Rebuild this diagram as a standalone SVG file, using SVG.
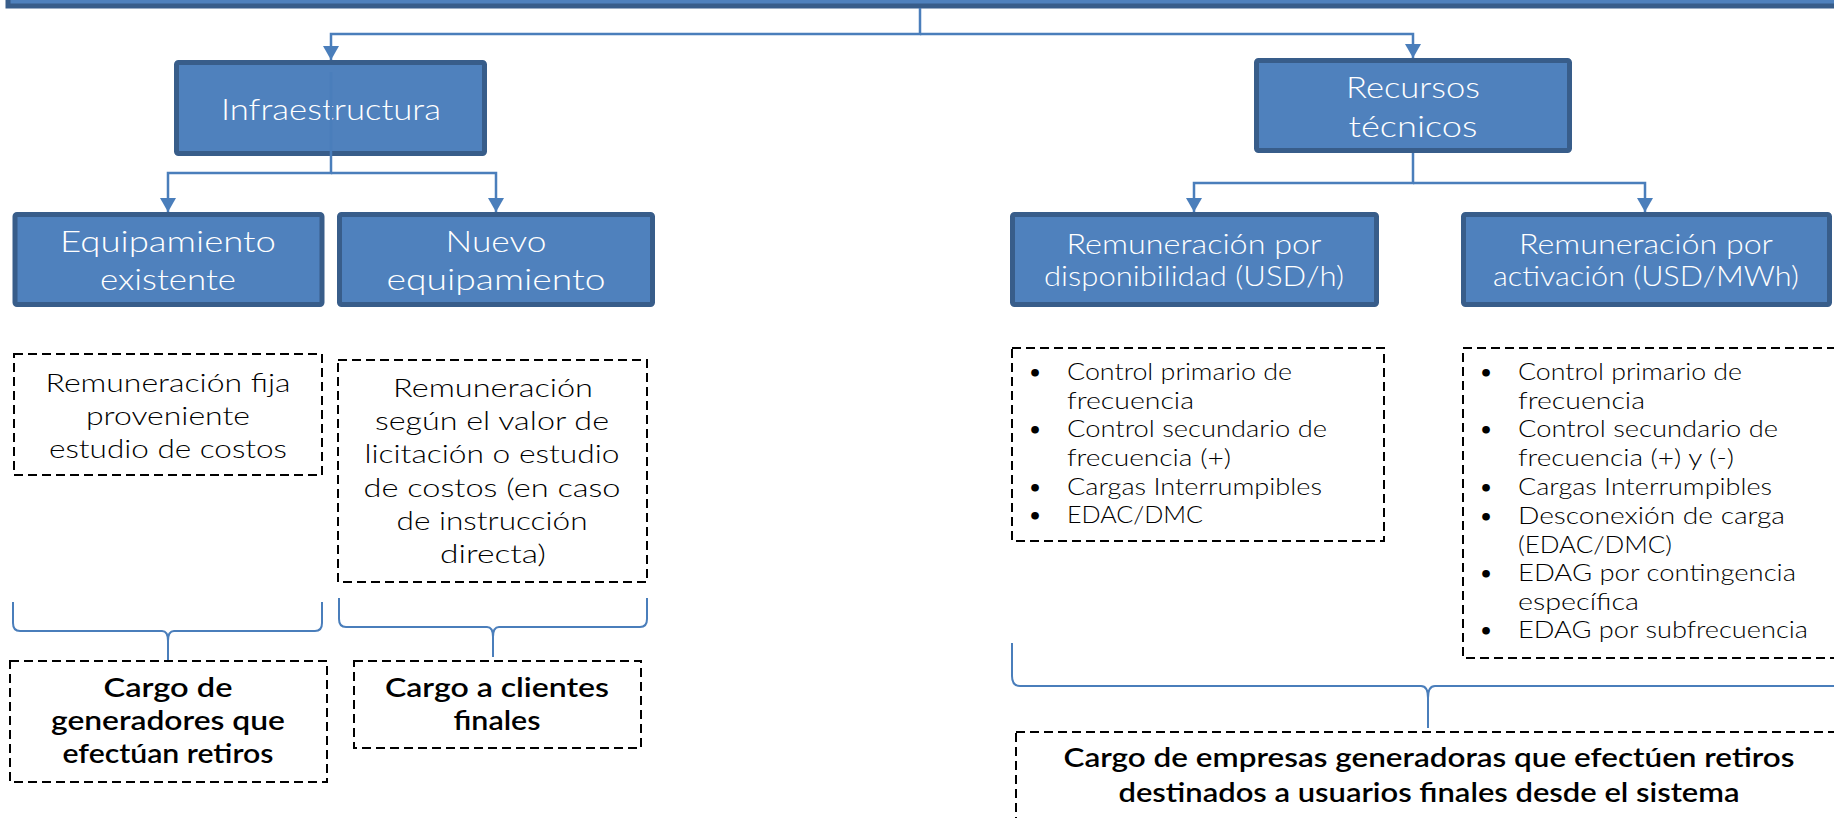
<svg xmlns="http://www.w3.org/2000/svg" width="1834" height="818" viewBox="0 0 1834 818">
<defs>
<style>
.box{fill:#4F81BD;stroke:#385D8A;stroke-width:5}
.lbl{font-family:Lato,"Liberation Sans",sans-serif;font-weight:300;fill:#FFFFFF;text-anchor:middle}
.dash{fill:none;stroke:#000;stroke-width:2;stroke-dasharray:9 5}
.txt{font-family:Lato,"Liberation Sans",sans-serif;font-weight:300;fill:#000;text-anchor:middle;font-size:25px}
.lst{font-family:Lato,"Liberation Sans",sans-serif;font-weight:300;fill:#000;font-size:23.5px}
.bul{font-family:"DejaVu Sans",sans-serif;font-weight:700;fill:#000;font-size:22px;text-anchor:middle}
.bld{font-family:Lato,"Liberation Sans",sans-serif;font-weight:600;fill:#000;text-anchor:middle;font-size:27px}
.con{fill:none;stroke:#4A7EBB;stroke-width:2.5}
.brc{fill:none;stroke:#4A7EBB;stroke-width:2}
</style>
<marker id="arr" markerWidth="16" markerHeight="16" refX="14" refY="8" orient="auto" markerUnits="userSpaceOnUse">
<path d="M0,0 L14,8 L0,16 z" fill="#4A7EBB"/>
</marker>
</defs>

<g id="top">
<rect class="box" x="8" y="-30" width="1850" height="36"/>
</g>

<g id="infraestructura">
<rect class="box" x="176.5" y="62.5" width="308" height="91" rx="2"/>
<text class="lbl" x="331" y="120" font-size="30" textLength="220" lengthAdjust="spacingAndGlyphs">Infraestructura</text>
</g>

<g id="recursos">
<rect class="box" x="1256.5" y="60.5" width="313" height="90" rx="2"/>
<text class="lbl" x="1413" y="98" font-size="29" textLength="134" lengthAdjust="spacingAndGlyphs">Recursos</text>
<text class="lbl" x="1413" y="137" font-size="29" textLength="129" lengthAdjust="spacingAndGlyphs">técnicos</text>
</g>

<g id="equip-existente">
<rect class="box" x="15" y="214.5" width="307" height="90" rx="2"/>
<text class="lbl" x="168" y="252" font-size="30" textLength="216" lengthAdjust="spacingAndGlyphs">Equipamiento</text>
<text class="lbl" x="168" y="290" font-size="30" textLength="136" lengthAdjust="spacingAndGlyphs">existente</text>
</g>

<g id="nuevo-equip">
<rect class="box" x="339.5" y="214.5" width="313" height="90" rx="2"/>
<text class="lbl" x="496" y="252" font-size="30" textLength="101" lengthAdjust="spacingAndGlyphs">Nuevo</text>
<text class="lbl" x="496" y="290" font-size="30" textLength="219" lengthAdjust="spacingAndGlyphs">equipamiento</text>
</g>

<g id="rem-disp">
<rect class="box" x="1012.5" y="214.5" width="364" height="90" rx="2"/>
<text class="lbl" x="1194" y="254" font-size="26.5" textLength="255" lengthAdjust="spacingAndGlyphs">Remuneración por</text>
<text class="lbl" x="1194" y="286" font-size="26.5" textLength="300" lengthAdjust="spacingAndGlyphs">disponibilidad (USD/h)</text>
</g>

<g id="rem-activ">
<rect class="box" x="1463.5" y="214.5" width="366" height="90" rx="2"/>
<text class="lbl" x="1646" y="254" font-size="26.5" textLength="254" lengthAdjust="spacingAndGlyphs">Remuneración por</text>
<text class="lbl" x="1646" y="286" font-size="26.5" textLength="306" lengthAdjust="spacingAndGlyphs">activación (USD/MWh)</text>
</g>

<g id="txt-fija">
<rect class="dash" x="14" y="354" width="308" height="121"/>
<text class="txt" x="168" y="392" textLength="245" lengthAdjust="spacingAndGlyphs">Remuneración fija</text>
<text class="txt" x="168" y="425" textLength="164" lengthAdjust="spacingAndGlyphs">proveniente</text>
<text class="txt" x="168" y="458" textLength="238" lengthAdjust="spacingAndGlyphs">estudio de costos</text>
</g>

<g id="txt-nuevo">
<rect class="dash" x="338" y="360" width="309" height="222"/>
<text class="txt" x="493" y="397" textLength="200" lengthAdjust="spacingAndGlyphs">Remuneración</text>
<text class="txt" x="492" y="430" textLength="234" lengthAdjust="spacingAndGlyphs">según el valor de</text>
<text class="txt" x="492" y="463" textLength="255" lengthAdjust="spacingAndGlyphs">licitación o estudio</text>
<text class="txt" x="492" y="497" textLength="257" lengthAdjust="spacingAndGlyphs">de costos (en caso</text>
<text class="txt" x="492" y="530" textLength="191" lengthAdjust="spacingAndGlyphs">de instrucción</text>
<text class="txt" x="493" y="563" textLength="106" lengthAdjust="spacingAndGlyphs">directa)</text>
</g>

<g id="list-disp">
<rect class="dash" x="1012" y="348" width="372" height="193"/>
<text class="bul" x="1035" y="381">•</text>
<text class="lst" x="1067" y="380" textLength="225" lengthAdjust="spacingAndGlyphs">Control primario de</text>
<text class="lst" x="1067" y="409" textLength="127" lengthAdjust="spacingAndGlyphs">frecuencia</text>
<text class="bul" x="1035" y="438">•</text>
<text class="lst" x="1067" y="437" textLength="260" lengthAdjust="spacingAndGlyphs">Control secundario de</text>
<text class="lst" x="1067" y="466" textLength="164" lengthAdjust="spacingAndGlyphs">frecuencia (+)</text>
<text class="bul" x="1035" y="496">•</text>
<text class="lst" x="1067" y="495" textLength="255" lengthAdjust="spacingAndGlyphs">Cargas Interrumpibles</text>
<text class="bul" x="1035" y="524">•</text>
<text class="lst" x="1067" y="523" textLength="136" lengthAdjust="spacingAndGlyphs">EDAC/DMC</text>
</g>

<g id="list-activ">
<rect class="dash" x="1463" y="348" width="390" height="310"/>
<text class="bul" x="1486" y="381">•</text>
<text class="lst" x="1518" y="380" textLength="224" lengthAdjust="spacingAndGlyphs">Control primario de</text>
<text class="lst" x="1518" y="409" textLength="127" lengthAdjust="spacingAndGlyphs">frecuencia</text>
<text class="bul" x="1486" y="438">•</text>
<text class="lst" x="1518" y="437" textLength="260" lengthAdjust="spacingAndGlyphs">Control secundario de</text>
<text class="lst" x="1518" y="466" textLength="216" lengthAdjust="spacingAndGlyphs">frecuencia (+) y (-)</text>
<text class="bul" x="1486" y="496">•</text>
<text class="lst" x="1518" y="495" textLength="254" lengthAdjust="spacingAndGlyphs">Cargas Interrumpibles</text>
<text class="bul" x="1486" y="525">•</text>
<text class="lst" x="1518" y="524" textLength="267" lengthAdjust="spacingAndGlyphs">Desconexión de carga</text>
<text class="lst" x="1518" y="553" textLength="154" lengthAdjust="spacingAndGlyphs">(EDAC/DMC)</text>
<text class="bul" x="1486" y="582">•</text>
<text class="lst" x="1518" y="581" textLength="278" lengthAdjust="spacingAndGlyphs">EDAG por contingencia</text>
<text class="lst" x="1518" y="610" textLength="121" lengthAdjust="spacingAndGlyphs">específica</text>
<text class="bul" x="1486" y="639">•</text>
<text class="lst" x="1518" y="638" textLength="290" lengthAdjust="spacingAndGlyphs">EDAG por subfrecuencia</text>
</g>

<g id="cargo-gen">
<rect class="dash" x="10" y="661" width="317" height="121"/>
<text class="bld" x="168" y="697" textLength="129" lengthAdjust="spacingAndGlyphs">Cargo de</text>
<text class="bld" x="168" y="730" textLength="234" lengthAdjust="spacingAndGlyphs">generadores que</text>
<text class="bld" x="168" y="763" textLength="211" lengthAdjust="spacingAndGlyphs">efectúan retiros</text>
</g>

<g id="cargo-clientes">
<rect class="dash" x="354" y="661" width="287" height="87"/>
<text class="bld" x="497" y="697" textLength="224" lengthAdjust="spacingAndGlyphs">Cargo a clientes</text>
<text class="bld" x="497" y="730" textLength="87" lengthAdjust="spacingAndGlyphs">finales</text>
</g>

<g id="cargo-empresas">
<rect class="dash" x="1016" y="732" width="840" height="110"/>
<text class="bld" x="1429" y="767" textLength="731" lengthAdjust="spacingAndGlyphs">Cargo de empresas generadoras que efectúen retiros</text>
<text class="bld" x="1429" y="802" textLength="621" lengthAdjust="spacingAndGlyphs">destinados a usuarios finales desde el sistema</text>
</g>

<g id="connectors">
<path class="con" d="M920,8 V34 H331 V60" marker-end="url(#arr)"/>
<path class="con" d="M920,34 H1413 V58" marker-end="url(#arr)"/>
<path class="con" d="M331,72 V173 H168 V212" marker-end="url(#arr)"/>
<path class="con" d="M331,173 H496 V212" marker-end="url(#arr)"/>
<path class="con" d="M1413,153 V183 H1194 V212" marker-end="url(#arr)"/>
<path class="con" d="M1413,183 H1645 V212" marker-end="url(#arr)"/>
<path class="brc" d="M13,602 V623 Q13,631 20,631 H162 Q168,631 168,641 V660 V641 Q168,631 174,631 H315 Q322,631 322,623 V602"/>
<path class="brc" d="M339,598 V619 Q339,627 346,627 H487 Q493,627 493,637 V657 V637 Q493,627 499,627 H640 Q647,627 647,619 V598"/>
<path class="brc" d="M1012,643 V676 Q1012,686 1020,686 H1421 Q1428,686 1428,698 V728 V698 Q1428,686 1435,686 H1836 Q1844,686 1844,676 V643"/>
</g>
</svg>
